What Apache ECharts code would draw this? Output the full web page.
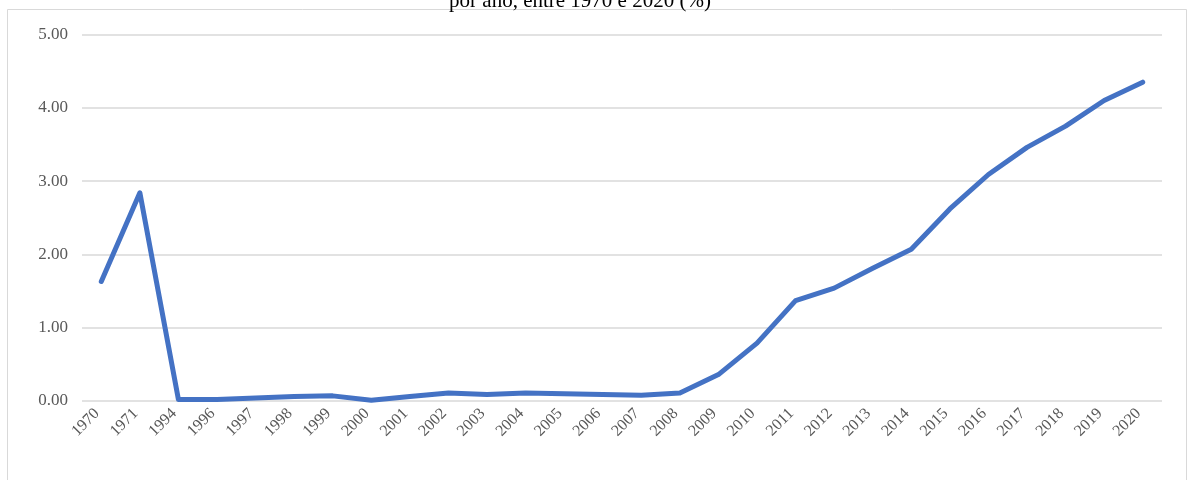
<!DOCTYPE html>
<html>
<head>
<meta charset="utf-8">
<script src="https://cdn.jsdelivr.net/npm/echarts@6/dist/echarts.min.js"></script>
<style>
  html, body { margin: 0; padding: 0; background: #ffffff; }
  #chart { width: 1189px; height: 480px; }
</style>
</head>
<body>
<div id="chart"></div>
<script>
// Years shown on the category axis
const years = ['1970', '1971', '1994', '1996', '1997', '1998', '1999', '2000', '2001', '2002',
  '2003', '2004', '2005', '2006', '2007', '2008', '2009', '2010', '2011', '2012',
  '2013', '2014', '2015', '2016', '2017', '2018', '2019', '2020'];

// Percentage per year
const rates = [1.63, 2.84, 0.02, 0.02, 0.04, 0.06, 0.07, 0.01, 0.06, 0.11,
  0.09, 0.11, 0.10, 0.09, 0.08, 0.11, 0.36, 0.79, 1.37, 1.54,
  1.81, 2.07, 2.62, 3.09, 3.46, 3.75, 4.10, 4.35];

// Value axis ticks
const yTicks = [0, 1, 2, 3, 4, 5];

const titleText = 'por ano, entre 1970 e 2020 (%)';

const chart = echarts.init(document.getElementById('chart'), null, { renderer: 'canvas' });

chart.setOption({
  animation: false,
  backgroundColor: '#ffffff',
  title: {
    text: titleText,
    left: 575,
    textAlign: 'center',
    top: -14,
    textStyle: {
      fontFamily: 'Liberation Serif',
      fontWeight: 'normal',
      fontSize: 21,
      color: '#000000'
    }
  },
  graphic: [{
    type: 'rect',
    shape: { x: 7.5, y: 9.5, width: 1179, height: 480 },
    style: { fill: 'none', stroke: '#d9d9d9', lineWidth: 1 },
    z: -1
  }],
  grid: { left: 82, right: 27, top: 34.5, bottom: 79 },
  xAxis: {
    type: 'category',
    data: years,
    boundaryGap: true,
    axisLine: { show: false },
    axisTick: { show: false },
    axisLabel: {
      rotate: 45,
      interval: 0,
      margin: 6,
      padding: [0, 6, 0, 0],
      fontFamily: 'Liberation Serif',
      fontSize: 16,
      color: '#595959'
    }
  },
  yAxis: {
    type: 'value',
    min: yTicks[0],
    max: yTicks[yTicks.length - 1],
    interval: 1,
    axisLine: { show: false },
    axisTick: { show: false },
    splitLine: { lineStyle: { color: '#d9d9d9', width: 1.5 } },
    axisLabel: {
      margin: 14,
      fontFamily: 'Liberation Serif',
      fontSize: 17,
      color: '#595959',
      formatter: v => v.toFixed(2)
    }
  },
  series: [{
    type: 'line',
    data: rates,
    symbol: 'none',
    lineStyle: { color: '#4472C4', width: 5, cap: 'round', join: 'round' }
  }]
});
</script>
</body>
</html>
